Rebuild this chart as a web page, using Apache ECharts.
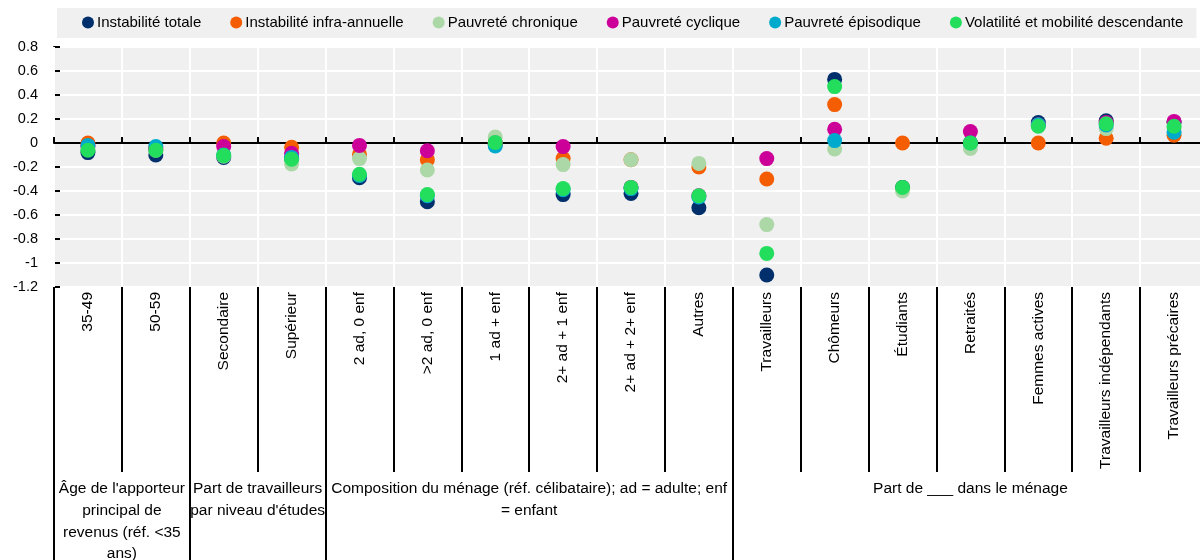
<!DOCTYPE html>
<html>
<head>
<meta charset="utf-8">
<script src="https://cdn.jsdelivr.net/npm/echarts@6/dist/echarts.min.js"></script>
<style>
html,body{margin:0;padding:0;background:#fff;}
#chart{width:1200px;height:560px;}
</style>
</head>
<body>
<div id="chart"></div>
<script>
const categories = ['35-49','50-59','Secondaire','Supérieur','2 ad, 0 enf','>2 ad, 0 enf','1 ad + enf','2+ ad + 1 enf','2+ ad + 2+ enf','Autres','Travailleurs','Chômeurs','Étudiants','Retraités','Femmes actives','Travailleurs indépendants','Travailleurs précaires'];

const seriesNames = ['Instabilité totale','Instabilité infra-annuelle','Pauvreté chronique','Pauvreté cyclique','Pauvreté épisodique','Volatilité et mobilité descendante'];
const seriesColors = ['#002F6C','#F45D01','#ACD8A8','#CC0099','#00AACC','#22DE5C'];

const instabiliteTotale   = [-0.08,-0.10,-0.12,-0.13,-0.29,-0.49,-0.01,-0.43,-0.42,-0.54,-1.10,0.53,-0.37,0.0,0.17,0.185,0.17];
const instabiliteInfra    = [0.0,-0.04,0.0,-0.035,-0.095,-0.14,0.0,-0.13,-0.14,-0.20,-0.30,0.32,0.0,0.0,0.0,0.04,0.065];
const pauvreteChronique   = [-0.05,-0.06,-0.11,-0.175,-0.13,-0.225,0.05,-0.18,-0.14,-0.17,-0.68,-0.05,-0.40,-0.045,0.15,0.12,0.12];
const pauvreteCyclique    = [-0.03,-0.05,-0.03,-0.085,-0.02,-0.065,0.0,-0.03,-0.37,-0.44,-0.13,0.115,null,0.095,0.15,0.17,0.18];
const pauvreteEpisodique  = [-0.02,-0.03,-0.10,-0.12,-0.27,-0.44,-0.025,-0.39,-0.38,-0.45,null,0.02,null,0.0,0.15,0.15,0.09];
const volatiliteMobilite  = [-0.06,-0.06,-0.105,-0.135,-0.26,-0.43,0.005,-0.38,-0.37,-0.44,-0.92,0.47,-0.37,0.0,0.14,0.16,0.14];

const seriesValues = [instabiliteTotale, instabiliteInfra, pauvreteChronique, pauvreteCyclique, pauvreteEpisodique, volatiliteMobilite];

const groupLabels = ["Âge de l'apporteur\nprincipal de\nrevenus (réf. <35\nans)", "Part de travailleurs\npar niveau d'études", "Composition du ménage (réf. célibataire); ad = adulte; enf\n= enfant", "Part de ___ dans le ménage"];
const groupStarts = [0, 2, 4, 10];
const groupEnds   = [2, 4, 10, 17];

const groupCenters = groupStarts.map((s, i) => (s + groupEnds[i]) / 2);
const groupBounds = [0].concat(groupEnds);

const FONT = "'Liberation Sans', Arial, sans-serif";

const chart = echarts.init(document.getElementById('chart'), null, {renderer: 'canvas'});
chart.setOption({
  animation: false,
  textStyle: {fontFamily: FONT, color: '#000'},
  legend: {
    left: 57, top: 8, width: 1120,
    padding: [7, 13, 8, 25],
    backgroundColor: '#f0f0f0',
    icon: 'circle',
    itemWidth: 12, itemHeight: 12,
    itemGap: 29,
    textStyle: {fontFamily: FONT, fontSize: 15, color: '#000', padding: [0,0,0,-2]},
    data: seriesNames
  },
  grid: {
    left: 54, top: 47, width: 1154, height: 240,
    outerBoundsMode: 'none', containLabel: false,
    show: true, backgroundColor: '#f0f0f0', borderWidth: 0
  },
  xAxis: [
    {
      type: 'category', data: categories, position: 'bottom',
      axisLine: {onZero: true, lineStyle: {color: '#000', width: 2}},
      axisTick: {show: true, inside: true, interval: 0, length: 6, lineStyle: {color: '#000', width: 2}},
      axisLabel: {show: false, interval: 0},
      splitLine: {show: true, interval: 0, lineStyle: {color: '#fff', width: 2}},
      z: 3
    },
    {
      type: 'category', data: categories, position: 'bottom', offset: 0,
      axisLine: {show: false, onZero: false},
      axisTick: {show: true, interval: 0, length: 185, lineStyle: {color: '#000', width: 2}},
      axisLabel: {show: true, interval: 0, rotate: 90, margin: 5, fontSize: 15.5, color: '#000', fontFamily: FONT},
      splitLine: {show: false}
    },
    {
      type: 'value', min: 0, max: 17, position: 'bottom', offset: 185,
      axisLine: {show: false, onZero: false},
      axisTick: {show: true, length: 88, customValues: groupBounds, lineStyle: {color: '#000', width: 2}},
      axisLabel: {
        show: true, customValues: groupCenters, margin: 6, fontSize: 15.5, lineHeight: 21.7,
        color: '#000', fontFamily: FONT, align: 'center', verticalAlign: 'top',
        formatter: function (v) {
          const i = groupCenters.findIndex(c => Math.abs(c - v) < 1e-6);
          return i >= 0 ? groupLabels[i] : '';
        }
      },
      splitLine: {show: false}
    }
  ],
  yAxis: {
    type: 'value', min: -1.2, max: 0.8, interval: 0.2,
    axisLine: {show: true, onZero: false, lineStyle: {color: '#000', width: 2}},
    axisTick: {show: true, inside: true, length: 6, lineStyle: {color: '#000', width: 2}},
    axisLabel: {
      fontSize: 14.5, color: '#000', margin: 16, fontFamily: FONT,
      formatter: v => String(Math.round(v * 10) / 10)
    },
    splitLine: {show: true, lineStyle: {color: '#fff', width: 2}}
  },
  series: seriesNames.map((name, i) => ({
    name: name,
    type: 'scatter',
    xAxisIndex: 0,
    symbol: 'circle',
    symbolSize: 15,
    itemStyle: {color: seriesColors[i], opacity: 1},
    emphasis: {disabled: true},
    data: seriesValues[i],
    z: 4
  }))
});
</script>
</body>
</html>
